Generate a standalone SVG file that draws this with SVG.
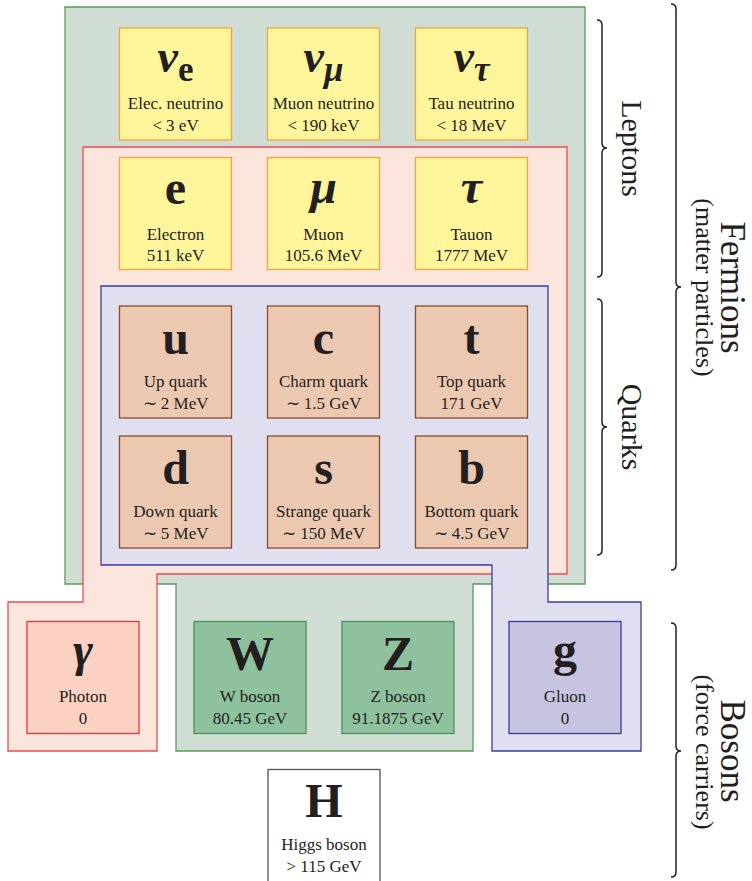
<svg xmlns="http://www.w3.org/2000/svg" width="752" height="881" viewBox="0 0 752 881">
<style>
text{font-family:"Liberation Serif","Times New Roman",serif;fill:#231f20}
.lbl{font-size:17px;text-anchor:middle}
.sym{font-size:48px;font-weight:bold;text-anchor:middle}
.gr{font-style:italic}
.side{font-size:30px;text-anchor:middle}
.big{font-size:35px;text-anchor:middle}
.sub{font-size:26px;text-anchor:middle}
.reg{stroke-width:1.3}
.box{stroke-width:1.3}
.lep{fill:#fff59b;stroke:#f4a43c}
.qk{fill:#ecc8b0;stroke:#8a4a2a}
.ph{fill:#fdd2c2;stroke:#e8343e}
.wz{fill:#8ec19e;stroke:#4f8f5a}
.gl{fill:#c7c4e2;stroke:#3c3c9a}
.hg{fill:#ffffff;stroke:#555555}
.brace{fill:none;stroke:#222;stroke-width:1.5}
</style>

<g id="regions">
<polygon id="fermions-region" class="reg" fill="#cfddd4" stroke="#5a9a5a" points="65,7 585,7 585,584 473,584 473,751 176,751 176,584 65,584"/>
<polygon id="em-region" class="reg" fill="#fce5dc" stroke="#ee4a55" points="83,147 567,147 567,574 157,574 157,751 8,751 8,602 83,602"/>
<polygon id="strong-region" class="reg" fill="#dfdff0" stroke="#3c3ca0" points="101,286 548,286 548,602 641,602 641,751 492,751 492,565 101,565"/>
</g>

<g id="nu-e"><rect class="box lep" x="119.5" y="28" width="112" height="112"/>
<text class="sym" x="175.5" y="72"><tspan class="gr" font-size="46">ν</tspan><tspan dy="9" font-size="35">e</tspan></text>
<text class="lbl" x="175.5" y="109">Elec. neutrino</text><text class="lbl" x="175.5" y="131">&lt; 3 eV</text></g>

<g id="nu-mu"><rect class="box lep" x="267.5" y="28" width="112" height="112"/>
<text class="sym" x="323.5" y="72"><tspan class="gr" font-size="46">ν</tspan><tspan class="gr" dy="9" font-size="35">μ</tspan></text>
<text class="lbl" x="323.5" y="109">Muon neutrino</text><text class="lbl" x="323.5" y="131">&lt; 190 keV</text></g>

<g id="nu-tau"><rect class="box lep" x="415.5" y="28" width="112" height="112"/>
<text class="sym" x="471.5" y="72"><tspan class="gr" font-size="46">ν</tspan><tspan class="gr" dy="9" font-size="35">τ</tspan></text>
<text class="lbl" x="471.5" y="109">Tau neutrino</text><text class="lbl" x="471.5" y="131">&lt; 18 MeV</text></g>

<g id="electron"><rect class="box lep" x="119.5" y="157.5" width="112" height="112"/>
<text class="sym" x="175.5" y="204">e</text>
<text class="lbl" x="175.5" y="239.5">Electron</text><text class="lbl" x="175.5" y="261">511 keV</text></g>

<g id="muon"><rect class="box lep" x="267.5" y="157.5" width="112" height="112"/>
<text class="sym gr" x="323.5" y="203">μ</text>
<text class="lbl" x="323.5" y="239.5">Muon</text><text class="lbl" x="323.5" y="261">105.6 MeV</text></g>

<g id="tauon"><rect class="box lep" x="415.5" y="157.5" width="112" height="112"/>
<text class="sym gr" x="471.5" y="203">τ</text>
<text class="lbl" x="471.5" y="239.5">Tauon</text><text class="lbl" x="471.5" y="261">1777 MeV</text></g>

<g id="up"><rect class="box qk" x="119.5" y="306" width="112" height="112"/>
<text class="sym" x="175.5" y="353.5">u</text>
<text class="lbl" x="175.5" y="387">Up quark</text><text class="lbl" x="175.5" y="409">∼ 2 MeV</text></g>

<g id="charm"><rect class="box qk" x="267.5" y="306" width="112" height="112"/>
<text class="sym" x="323.5" y="353.5">c</text>
<text class="lbl" x="323.5" y="387">Charm quark</text><text class="lbl" x="323.5" y="409">∼ 1.5 GeV</text></g>

<g id="top"><rect class="box qk" x="415.5" y="306" width="112" height="112"/>
<text class="sym" x="471.5" y="353.5">t</text>
<text class="lbl" x="471.5" y="387">Top quark</text><text class="lbl" x="471.5" y="409">171 GeV</text></g>

<g id="down"><rect class="box qk" x="119.5" y="436" width="112" height="112"/>
<text class="sym" x="175.5" y="483.5">d</text>
<text class="lbl" x="175.5" y="517">Down quark</text><text class="lbl" x="175.5" y="539">∼ 5 MeV</text></g>

<g id="strange"><rect class="box qk" x="267.5" y="436" width="112" height="112"/>
<text class="sym" x="323.5" y="483.5">s</text>
<text class="lbl" x="323.5" y="517">Strange quark</text><text class="lbl" x="323.5" y="539">∼ 150 MeV</text></g>

<g id="bottom"><rect class="box qk" x="415.5" y="436" width="112" height="112"/>
<text class="sym" x="471.5" y="483.5">b</text>
<text class="lbl" x="471.5" y="517">Bottom quark</text><text class="lbl" x="471.5" y="539">∼ 4.5 GeV</text></g>

<g id="photon"><rect class="box ph" x="27" y="621.5" width="112" height="112"/>
<text class="sym gr" x="83" y="666">γ</text>
<text class="lbl" x="83" y="702">Photon</text><text class="lbl" x="83" y="724">0</text></g>

<g id="w-boson"><rect class="box wz" x="194" y="621.5" width="112" height="112"/>
<text class="sym" x="250" y="669.5">W</text>
<text class="lbl" x="250" y="702">W boson</text><text class="lbl" x="250" y="724">80.45 GeV</text></g>

<g id="z-boson"><rect class="box wz" x="342" y="621.5" width="112" height="112"/>
<text class="sym" x="398" y="669.5">Z</text>
<text class="lbl" x="398" y="702">Z boson</text><text class="lbl" x="398" y="724">91.1875 GeV</text></g>

<g id="gluon"><rect class="box gl" x="509" y="621.5" width="112" height="112"/>
<text class="sym" x="565" y="666">g</text>
<text class="lbl" x="565" y="702">Gluon</text><text class="lbl" x="565" y="724">0</text></g>

<g id="higgs"><rect class="box hg" x="268" y="769.5" width="112" height="115"/>
<text class="sym" x="324" y="817">H</text>
<text class="lbl" x="324" y="850">Higgs boson</text><text class="lbl" x="324" y="872">&gt; 115 GeV</text></g>

<g id="braces">
<path class="brace" d="M597,20 Q602,20 602,25 L602,143 Q602,148 607,148 Q602,148 602,153 L602,272 Q602,277 597,277"/>
<path class="brace" d="M597,299 Q602,299 602,304 L602,422 Q602,427 607,427 Q602,427 602,432 L602,550 Q602,555 597,555"/>
<path class="brace" d="M671,4 Q676,4 676,9 L676,282 Q676,287 681,287 Q676,287 676,292 L676,565 Q676,570 671,570"/>
<path class="brace" d="M671,623 Q676,623 676,628 L676,746 Q676,751 681,751 Q676,751 676,756 L676,872 Q676,877 671,877"/>
</g>

<g id="side-labels">
<text class="side" transform="translate(622,148.5) rotate(90)">Leptons</text>
<text class="side" transform="translate(622,427) rotate(90)">Quarks</text>
<text class="big" transform="translate(720.5,287.5) rotate(90)">Fermions</text>
<text class="sub" transform="translate(696,287.5) rotate(90)">(matter particles)</text>
<text class="big" transform="translate(720.5,751) rotate(90)">Bosons</text>
<text class="sub" transform="translate(696,752) rotate(90)">(force carriers)</text>
</g>
</svg>
